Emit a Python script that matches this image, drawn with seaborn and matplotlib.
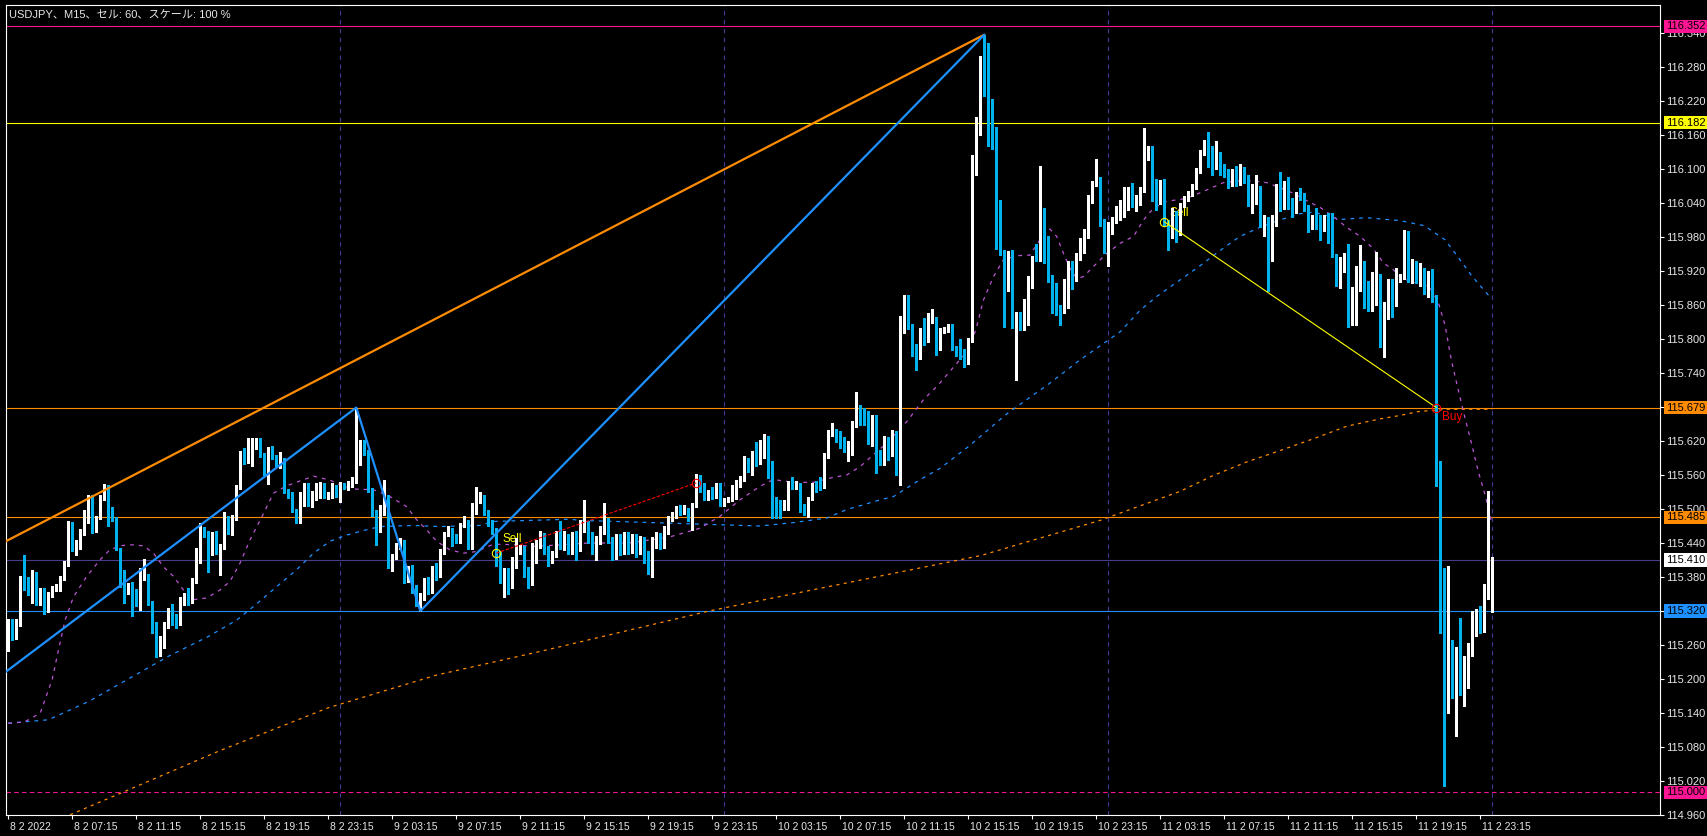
import numpy as np
import matplotlib
matplotlib.use("Agg")
import matplotlib.pyplot as plt
import matplotlib.transforms as mtransforms
import seaborn as sns

# ---- M15 candles, bar 0 = 8 Feb 03:15 ----
opens = [
    115.255, 115.300, 115.275, 115.298, 115.379, 115.376, 115.354, 115.385, 115.334, 115.357,
    115.321, 115.347, 115.361, 115.359, 115.378, 115.403, 115.474, 115.433, 115.435, 115.457,
    115.480, 115.522, 115.463, 115.485, 115.518, 115.528, 115.500, 115.484, 115.429, 115.372,
    115.353, 115.369, 115.356, 115.335, 115.378, 115.381, 115.336, 115.290, 115.250, 115.262,
    115.300, 115.329, 115.311, 115.300, 115.336, 115.343, 115.338, 115.374, 115.425, 115.463,
    115.458, 115.422, 115.458, 115.426, 115.435, 115.475, 115.468, 115.484, 115.539, 115.592,
    115.585, 115.601, 115.611, 115.623, 115.594, 115.564, 115.607, 115.592, 115.578, 115.582,
    115.531, 115.527, 115.498, 115.478, 115.526, 115.540, 115.516, 115.522, 115.525, 115.543,
    115.522, 115.522, 115.538, 115.519, 115.543, 115.537, 115.542, 115.549, 115.581, 115.617,
    115.601, 115.534, 115.495, 115.463, 115.495, 115.513, 115.401, 115.416, 115.437, 115.443,
    115.380, 115.398, 115.360, 115.335, 115.345, 115.372, 115.358, 115.395, 115.385, 115.425,
    115.457, 115.463, 115.448, 115.443, 115.472, 115.477, 115.434, 115.495, 115.519, 115.519,
    115.495, 115.478, 115.463, 115.422, 115.380, 115.390, 115.365, 115.400, 115.428, 115.431,
    115.393, 115.370, 115.410, 115.437, 115.454, 115.431, 115.410, 115.419, 115.466, 115.434,
    115.451, 115.428, 115.455, 115.430, 115.470, 115.475, 115.455, 115.430, 115.445, 115.462,
    115.469, 115.445, 115.420, 115.450, 115.425, 115.455, 115.428, 115.450, 115.425, 115.445,
    115.420, 115.400, 115.440, 115.455, 115.438, 115.466, 115.481, 115.487, 115.503, 115.496,
    115.499, 115.481, 115.507, 115.555, 115.534, 115.519, 115.534, 115.522, 115.543, 115.510,
    115.516, 115.517, 115.522, 115.540, 115.553, 115.587, 115.582, 115.599, 115.582, 115.604,
    115.622, 115.575, 115.516, 115.513, 115.502, 115.502, 115.546, 115.541, 115.541, 115.505,
    115.502, 115.519, 115.547, 115.553, 115.545, 115.594, 115.632, 115.638, 115.634, 115.624,
    115.607, 115.613, 115.649, 115.681, 115.675, 115.670, 115.621, 115.663, 115.600, 115.593,
    115.624, 115.597, 115.622, 115.562, 115.819, 115.846, 115.823, 115.788, 115.769, 115.817,
    115.797, 115.831, 115.834, 115.784, 115.815, 115.816, 115.823, 115.784, 115.781, 115.778,
    115.760, 115.797, 116.122, 116.166, 116.285, 116.280, 116.180, 116.170, 116.007, 115.954,
    115.893, 115.954, 115.837, 115.843, 115.819, 115.829, 115.894, 115.947, 115.943, 116.013,
    115.975, 115.906, 115.882, 115.858, 115.855, 115.859, 115.923, 115.906, 115.944, 115.975,
    115.982, 116.045, 116.075, 116.084, 116.007, 115.972, 115.990, 116.010, 116.023, 116.041,
    116.045, 116.062, 116.039, 116.051, 116.063, 116.117, 116.137, 116.072, 116.041, 116.075,
    116.007, 115.982, 116.022, 116.001, 116.037, 116.048, 116.057, 116.070, 116.098, 116.129,
    116.151, 116.131, 116.110, 116.125, 116.100, 116.095, 116.076, 116.100, 116.076, 116.098,
    116.082, 116.044, 116.041, 116.053, 116.005, 116.010, 115.942, 116.015, 116.072, 116.041,
    116.049, 116.044, 116.026, 116.053, 116.051, 116.034, 115.997, 116.016, 116.016, 115.994,
    116.004, 116.000, 115.948, 115.920, 115.927, 115.944, 115.837, 115.866, 115.925, 115.934,
    115.896, 115.872, 115.874, 115.908, 115.789, 115.838, 115.904, 115.881, 115.906, 115.912,
    115.985, 115.906, 115.914, 115.904, 115.918, 115.884, 115.918, 115.874, 115.565, 115.371,
    115.165, 115.203, 115.172, 115.247, 115.194, 115.232, 115.251, 115.292, 115.296, 115.292,
    115.353, 115.320,
]
highs = [
    115.306, 115.305, 115.305, 115.382, 115.418, 115.380, 115.392, 115.388, 115.360, 115.360,
    115.353, 115.364, 115.368, 115.381, 115.408, 115.478, 115.477, 115.446, 115.464, 115.498,
    115.525, 115.525, 115.488, 115.524, 115.544, 115.542, 115.503, 115.486, 115.432, 115.392,
    115.369, 115.372, 115.359, 115.395, 115.411, 115.385, 115.338, 115.300, 115.275, 115.300,
    115.325, 115.332, 115.315, 115.345, 115.352, 115.360, 115.378, 115.432, 115.475, 115.468,
    115.462, 115.460, 115.462, 115.438, 115.495, 115.487, 115.490, 115.542, 115.603, 115.607,
    115.625, 115.625, 115.626, 115.626, 115.598, 115.610, 115.612, 115.595, 115.600, 115.590,
    115.535, 115.530, 115.500, 115.530, 115.545, 115.545, 115.531, 115.546, 115.548, 115.546,
    115.530, 115.545, 115.542, 115.548, 115.546, 115.549, 115.557, 115.679, 115.622, 115.621,
    115.604, 115.537, 115.498, 115.507, 115.551, 115.525, 115.420, 115.440, 115.448, 115.445,
    115.400, 115.402, 115.365, 115.352, 115.378, 115.380, 115.400, 115.405, 115.430, 115.460,
    115.470, 115.466, 115.456, 115.475, 115.487, 115.480, 115.510, 115.538, 115.530, 115.525,
    115.498, 115.480, 115.466, 115.425, 115.395, 115.396, 115.415, 115.448, 115.437, 115.435,
    115.398, 115.440, 115.445, 115.462, 115.458, 115.434, 115.425, 115.462, 115.478, 115.462,
    115.455, 115.460, 115.462, 115.480, 115.516, 115.478, 115.460, 115.452, 115.470, 115.510,
    115.484, 115.450, 115.455, 115.455, 115.460, 115.460, 115.456, 115.455, 115.452, 115.450,
    115.425, 115.450, 115.460, 115.458, 115.470, 115.487, 115.495, 115.505, 115.507, 115.507,
    115.502, 115.510, 115.562, 115.560, 115.546, 115.534, 115.538, 115.546, 115.546, 115.520,
    115.521, 115.543, 115.552, 115.558, 115.593, 115.590, 115.603, 115.619, 115.622, 115.632,
    115.629, 115.584, 115.521, 115.515, 115.516, 115.550, 115.557, 115.550, 115.546, 115.508,
    115.522, 115.545, 115.550, 115.556, 115.598, 115.640, 115.652, 115.642, 115.638, 115.627,
    115.620, 115.655, 115.707, 115.684, 115.678, 115.673, 115.665, 115.666, 115.604, 115.628,
    115.627, 115.640, 115.637, 115.841, 115.878, 115.878, 115.826, 115.792, 115.820, 115.837,
    115.846, 115.853, 115.838, 115.820, 115.822, 115.826, 115.826, 115.788, 115.800, 115.782,
    115.802, 116.125, 116.191, 116.299, 116.337, 116.322, 116.223, 116.174, 116.045, 115.957,
    115.955, 115.957, 115.848, 115.848, 115.870, 115.911, 115.947, 115.968, 116.105, 116.031,
    115.982, 115.913, 115.898, 115.860, 115.906, 115.937, 115.937, 115.951, 115.978, 115.994,
    116.054, 116.078, 116.117, 116.086, 116.011, 116.006, 116.016, 116.034, 116.045, 116.069,
    116.068, 116.075, 116.054, 116.069, 116.172, 116.140, 116.140, 116.082, 116.080, 116.082,
    116.010, 116.031, 116.025, 116.040, 116.052, 116.062, 116.074, 116.102, 116.133, 116.151,
    116.166, 116.140, 116.150, 116.130, 116.108, 116.100, 116.100, 116.105, 116.108, 116.103,
    116.090, 116.073, 116.089, 116.070, 116.019, 116.016, 116.019, 116.074, 116.095, 116.079,
    116.085, 116.048, 116.059, 116.067, 116.057, 116.036, 116.019, 116.032, 116.018, 116.019,
    116.022, 116.022, 115.950, 115.944, 115.952, 115.967, 115.891, 115.928, 115.966, 115.937,
    115.903, 115.918, 115.954, 115.915, 115.865, 115.906, 115.906, 115.925, 115.915, 115.992,
    115.990, 115.942, 115.937, 115.934, 115.925, 115.920, 115.923, 115.878, 115.584, 115.395,
    115.400, 115.269, 115.256, 115.307, 115.241, 115.264, 115.320, 115.323, 115.329, 115.367,
    115.532, 115.415,
]
lows = [
    115.250, 115.268, 115.270, 115.294, 115.357, 115.348, 115.334, 115.330, 115.330, 115.315,
    115.318, 115.344, 115.355, 115.356, 115.375, 115.400, 115.425, 115.418, 115.430, 115.454,
    115.476, 115.458, 115.460, 115.482, 115.515, 115.470, 115.478, 115.428, 115.362, 115.334,
    115.350, 115.312, 115.328, 115.322, 115.374, 115.330, 115.282, 115.238, 115.240, 115.255,
    115.290, 115.295, 115.290, 115.295, 115.330, 115.330, 115.334, 115.370, 115.404, 115.450,
    115.388, 115.418, 115.420, 115.384, 115.430, 115.456, 115.454, 115.480, 115.535, 115.580,
    115.582, 115.575, 115.606, 115.592, 115.560, 115.544, 115.588, 115.575, 115.572, 115.528,
    115.520, 115.495, 115.475, 115.476, 115.505, 115.505, 115.504, 115.515, 115.520, 115.519,
    115.517, 115.520, 115.522, 115.513, 115.535, 115.533, 115.539, 115.545, 115.578, 115.596,
    115.530, 115.487, 115.437, 115.460, 115.490, 115.395, 115.391, 115.412, 115.430, 115.370,
    115.372, 115.352, 115.328, 115.320, 115.340, 115.350, 115.352, 115.375, 115.380, 115.420,
    115.452, 115.434, 115.440, 115.440, 115.468, 115.430, 115.430, 115.492, 115.510, 115.490,
    115.470, 115.455, 115.400, 115.370, 115.345, 115.350, 115.360, 115.396, 115.420, 115.380,
    115.360, 115.366, 115.405, 115.432, 115.420, 115.400, 115.405, 115.415, 115.430, 115.428,
    115.420, 115.420, 115.410, 115.425, 115.460, 115.440, 115.420, 115.410, 115.438, 115.455,
    115.440, 115.410, 115.412, 115.418, 115.420, 115.420, 115.422, 115.415, 115.420, 115.405,
    115.385, 115.380, 115.432, 115.430, 115.432, 115.455, 115.478, 115.484, 115.490, 115.492,
    115.478, 115.463, 115.503, 115.530, 115.515, 115.515, 115.518, 115.520, 115.505, 115.505,
    115.512, 115.514, 115.518, 115.538, 115.550, 115.566, 115.560, 115.575, 115.580, 115.590,
    115.555, 115.484, 115.484, 115.484, 115.498, 115.498, 115.535, 115.536, 115.495, 115.490,
    115.485, 115.516, 115.530, 115.534, 115.537, 115.590, 115.628, 115.619, 115.607, 115.600,
    115.584, 115.596, 115.645, 115.649, 115.649, 115.615, 115.612, 115.563, 115.578, 115.578,
    115.587, 115.594, 115.560, 115.543, 115.810, 115.818, 115.770, 115.746, 115.765, 115.790,
    115.794, 115.828, 115.772, 115.780, 115.810, 115.812, 115.780, 115.770, 115.765, 115.750,
    115.755, 115.795, 116.090, 116.160, 116.228, 116.140, 116.135, 115.958, 115.948, 115.822,
    115.885, 115.819, 115.728, 115.815, 115.815, 115.825, 115.890, 115.938, 115.938, 115.934,
    115.900, 115.846, 115.843, 115.825, 115.846, 115.855, 115.888, 115.902, 115.940, 115.951,
    115.978, 116.040, 116.070, 116.000, 115.952, 115.928, 115.985, 116.005, 116.010, 116.016,
    116.028, 116.033, 116.025, 116.037, 116.060, 116.115, 116.043, 116.028, 116.038, 116.000,
    115.957, 115.978, 115.972, 115.984, 116.033, 116.044, 116.052, 116.065, 116.093, 116.125,
    116.103, 116.090, 116.100, 116.090, 116.085, 116.067, 116.070, 116.070, 116.072, 116.075,
    116.035, 116.022, 116.038, 115.997, 115.981, 115.884, 115.938, 116.000, 116.026, 116.030,
    116.029, 116.016, 116.022, 116.045, 116.026, 115.988, 115.994, 115.994, 115.975, 115.991,
    115.969, 115.945, 115.893, 115.890, 115.918, 115.822, 115.824, 115.824, 115.884, 115.855,
    115.849, 115.849, 115.860, 115.785, 115.769, 115.835, 115.838, 115.859, 115.900, 115.905,
    115.900, 115.899, 115.898, 115.893, 115.880, 115.874, 115.866, 115.540, 115.282, 115.011,
    115.140, 115.166, 115.099, 115.172, 115.153, 115.184, 115.241, 115.276, 115.282, 115.283,
    115.342, 115.318,
]
closes = [
    115.300, 115.275, 115.298, 115.379, 115.375, 115.352, 115.385, 115.334, 115.355, 115.319,
    115.350, 115.361, 115.362, 115.378, 115.405, 115.474, 115.429, 115.436, 115.461, 115.495,
    115.522, 115.463, 115.485, 115.521, 115.531, 115.498, 115.481, 115.431, 115.366, 115.352,
    115.366, 115.356, 115.332, 115.378, 115.381, 115.336, 115.290, 115.250, 115.262, 115.295,
    115.321, 115.300, 115.298, 115.341, 115.348, 115.334, 115.375, 115.428, 115.463, 115.454,
    115.422, 115.457, 115.425, 115.435, 115.475, 115.466, 115.487, 115.539, 115.594, 115.585,
    115.604, 115.611, 115.623, 115.595, 115.564, 115.605, 115.592, 115.578, 115.582, 115.531,
    115.526, 115.498, 115.478, 115.527, 115.540, 115.519, 115.525, 115.543, 115.541, 115.522,
    115.525, 115.540, 115.525, 115.543, 115.538, 115.542, 115.551, 115.581, 115.616, 115.601,
    115.535, 115.493, 115.463, 115.495, 115.522, 115.401, 115.416, 115.437, 115.443, 115.380,
    115.398, 115.360, 115.335, 115.345, 115.372, 115.358, 115.395, 115.385, 115.425, 115.457,
    115.463, 115.443, 115.443, 115.472, 115.478, 115.434, 115.497, 115.522, 115.522, 115.493,
    115.475, 115.460, 115.422, 115.380, 115.390, 115.365, 115.410, 115.443, 115.431, 115.393,
    115.370, 115.434, 115.437, 115.457, 115.428, 115.410, 115.419, 115.457, 115.434, 115.457,
    115.428, 115.455, 115.430, 115.470, 115.475, 115.455, 115.430, 115.445, 115.462, 115.470,
    115.445, 115.420, 115.450, 115.425, 115.455, 115.428, 115.450, 115.425, 115.445, 115.420,
    115.400, 115.440, 115.455, 115.438, 115.466, 115.481, 115.490, 115.502, 115.495, 115.503,
    115.481, 115.507, 115.556, 115.534, 115.519, 115.528, 115.522, 115.543, 115.510, 115.516,
    115.517, 115.527, 115.541, 115.555, 115.589, 115.578, 115.600, 115.581, 115.606, 115.622,
    115.572, 115.516, 115.503, 115.502, 115.513, 115.546, 115.541, 115.545, 115.502, 115.502,
    115.519, 115.538, 115.539, 115.540, 115.594, 115.634, 115.638, 115.631, 115.622, 115.604,
    115.615, 115.650, 115.681, 115.675, 115.666, 115.621, 115.663, 115.599, 115.593, 115.624,
    115.597, 115.621, 115.562, 115.819, 115.846, 115.822, 115.787, 115.769, 115.817, 115.797,
    115.833, 115.834, 115.784, 115.816, 115.816, 115.823, 115.784, 115.781, 115.775, 115.760,
    115.799, 116.122, 116.169, 116.284, 116.278, 116.180, 116.169, 116.006, 115.951, 115.893,
    115.951, 115.837, 115.844, 115.819, 115.831, 115.894, 115.944, 115.941, 116.013, 115.974,
    115.904, 115.881, 115.858, 115.854, 115.857, 115.923, 115.906, 115.944, 115.976, 115.985,
    116.045, 116.075, 116.082, 116.006, 115.957, 115.985, 116.011, 116.023, 116.043, 116.045,
    116.064, 116.037, 116.051, 116.066, 116.121, 116.137, 116.066, 116.041, 116.075, 116.006,
    115.982, 116.019, 116.001, 116.037, 116.048, 116.058, 116.070, 116.098, 116.129, 116.148,
    116.131, 116.110, 116.125, 116.095, 116.092, 116.076, 116.080, 116.076, 116.100, 116.080,
    116.040, 116.045, 116.051, 116.005, 116.010, 115.942, 116.017, 116.072, 116.044, 116.048,
    116.041, 116.026, 116.053, 116.048, 116.032, 115.997, 116.016, 116.013, 115.994, 116.004,
    116.000, 115.947, 115.918, 115.928, 115.944, 115.837, 115.866, 115.925, 115.933, 115.896,
    115.872, 115.878, 115.911, 115.789, 115.843, 115.904, 115.879, 115.906, 115.912, 115.985,
    115.906, 115.914, 115.903, 115.917, 115.884, 115.918, 115.871, 115.562, 115.370, 115.165,
    115.200, 115.170, 115.252, 115.194, 115.235, 115.252, 115.292, 115.300, 115.292, 115.353,
    115.412, 115.410,
]

# ---- moving averages (bar index, price) ----
ma_fast_bars = [
    0, 4, 8, 11, 12.5, 14.2, 16.3, 19.6, 22.9, 25.4,
    27.9, 30.4, 33.8, 36.3, 38.8, 41.3, 43.8, 46.3, 49.6, 52.9,
    55.4, 57.9, 60.4, 63.8, 66.3, 69.6, 76.3, 80.4, 83.8, 87.1,
    91.3, 95.4, 99.6, 102.1, 104.6, 107.1, 110.4, 113.8, 117.1, 121.3,
    126.3, 131.3, 138.8, 145, 155, 165, 172.9, 177.9, 182.9, 187.9,
    191.3, 196.3, 201.3, 206.3, 209.6, 213.0, 216.3, 219.6, 224.6, 228.8,
    232.5, 240.4, 242.1, 243.8, 246.3, 248.8, 252.1, 255.4, 257.9, 260.4,
    262.1, 263.8, 265.4, 267.1, 268.8, 271.3, 274.6, 278.0, 281.3, 283.8,
    286.3, 289.6, 294.6, 299.6, 303.8, 308.0, 311.3, 314.6, 318.0, 321.3,
    324.6, 328.0, 331.3, 334.6, 338.0, 341.3, 343.8, 346.3, 348.0, 350.8,
    355.2, 357.5, 359.2, 360.8, 362.5, 364.2, 365.8, 367.5, 369.2, 370.8,
]
ma_fast = [
    115.122, 115.124, 115.140, 115.200, 115.250, 115.304, 115.345, 115.381, 115.410, 115.428,
    115.435, 115.437, 115.435, 115.422, 115.398, 115.381, 115.357, 115.340, 115.343, 115.357,
    115.372, 115.404, 115.445, 115.492, 115.528, 115.541, 115.558, 115.551, 115.540, 115.535,
    115.534, 115.522, 115.504, 115.481, 115.463, 115.443, 115.428, 115.422, 115.425, 115.438,
    115.437, 115.434, 115.437, 115.440, 115.440, 115.450, 115.466, 115.487, 115.516, 115.540,
    115.552, 115.547, 115.547, 115.556, 115.560, 115.575, 115.596, 115.616, 115.654, 115.693,
    115.719, 115.784, 115.822, 115.869, 115.910, 115.940, 115.947, 115.948, 115.975, 115.994,
    115.981, 115.951, 115.925, 115.907, 115.910, 115.928, 115.951, 115.969, 115.981, 116.010,
    116.031, 116.043, 116.048, 116.063, 116.076, 116.079, 116.079, 116.076, 116.067, 116.057,
    116.044, 116.032, 116.016, 115.997, 115.981, 115.959, 115.934, 115.922, 115.909, 115.901,
    115.893, 115.865, 115.824, 115.761, 115.710, 115.660, 115.616, 115.566, 115.525, 115.477,
]
ma_mid_bars = [
    0, 10, 20, 30, 40, 50, 57.1, 61.3, 69.6, 72.1,
    76.3, 80.4, 84.6, 88.8, 92.9, 101.3, 107.9, 117.9, 121.3, 140.4,
    142.9, 187.9, 196.3, 204.6, 209.6, 217.9, 221.3, 224.6, 228.0, 233.0,
    240, 250, 260, 267.9, 274.6, 278.0, 283.0, 287.1, 291.3, 297.9,
    302.9, 307.9, 312.9, 317.9, 322.9, 326.3, 332.9, 339.6, 347.9, 354,
    359.2, 362.5, 365.8, 370.8,
]
ma_mid = [
    115.122, 115.128, 115.160, 115.200, 115.240, 115.275, 115.304, 115.328, 115.378, 115.393,
    115.422, 115.443, 115.454, 115.462, 115.469, 115.471, 115.469, 115.471, 115.478, 115.482,
    115.480, 115.470, 115.476, 115.484, 115.499, 115.516, 115.522, 115.537, 115.552, 115.572,
    115.610, 115.670, 115.720, 115.763, 115.796, 115.813, 115.851, 115.875, 115.896, 115.929,
    115.956, 115.981, 115.997, 116.010, 116.021, 116.024, 116.011, 116.014, 116.009, 116.000,
    115.975, 115.944, 115.912, 115.871,
]
ma_slow_bars = [12, 29.9, 52.7, 79.9, 107.1, 134.4, 175.2, 243.2, 273, 292.9,
                301.2, 309.6, 317.9, 326.3, 334.6, 342.9, 347.9, 352.5, 360, 371]
ma_slow = [114.950, 115.004, 115.073, 115.149, 115.207, 115.251, 115.320, 115.418, 115.480, 115.531,
           115.559, 115.583, 115.603, 115.624, 115.646, 115.659, 115.665, 115.672, 115.676, 115.676]

# zigzag and trend line vertices
zigzag_bars = [-6, 87, 103, 244]
zigzag_prices = [115.184, 115.679, 115.320, 116.337]
trend_bars = [-2, 244]
trend_prices = [115.438, 116.337]

# trades
trade1_bars = [122, 172]
trade1_prices = [115.422, 115.546]
trade2_bars = [289, 357]
trade2_prices = [116.007, 115.679]

# horizontal levels and their price boxes
level_prices = [116.352, 116.182, 115.679, 115.485, 115.410, 115.320, 115.000]
level_colors = ['#FF1493', '#FFFF00', '#FF8C00', '#FF8C00', '#483D8B', '#1E90FF', '#FF1493']
level_box_colors = ['#FF1493', '#FFFF00', '#FF8C00', '#FF8C00', '#FFFFFF', '#1E90FF', '#FF1493']
level_styles = ['-', '-', '-', '-', '-', '-', (0, (4, 3))]

day_breaks = [83, 179, 275, 371]

ytick_values = [114.960, 115.020, 115.080, 115.140, 115.200, 115.260, 115.320, 115.380,
                115.440, 115.500, 115.560, 115.620, 115.680, 115.740, 115.800, 115.860,
                115.920, 115.980, 116.040, 116.100, 116.160, 116.220, 116.280, 116.340]
xtick_bars = [0, 16, 32, 48, 64, 80, 96, 112, 128, 144, 160, 176,
              192, 208, 224, 240, 256, 272, 288, 304, 320, 336, 352, 368]
xtick_labels = ['8 2 2022', '8 2 07:15', '8 2 11:15', '8 2 15:15', '8 2 19:15', '8 2 23:15',
                '9 2 03:15', '9 2 07:15', '9 2 11:15', '9 2 15:15', '9 2 19:15', '9 2 23:15',
                '10 2 03:15', '10 2 07:15', '10 2 11:15', '10 2 15:15', '10 2 19:15', '10 2 23:15',
                '11 2 03:15', '11 2 07:15', '11 2 11:15', '11 2 15:15', '11 2 19:15', '11 2 23:15']

title = "USDJPY、M15、セル: 60、スケール: 100 %"

# ---- style ----
sns.set_style("dark", {"axes.facecolor": "black", "figure.facecolor": "black"})
plt.rcParams['font.family'] = ['Liberation Sans', 'Noto Sans CJK JP', 'DejaVu Sans']
TEXT = '#E6E6E6'
BULL = '#FFFFFF'
BEAR = '#00B2EE'

W, H = 1707, 836
fig = plt.figure(figsize=(W / 100, H / 100), dpi=100)
fig.patch.set_facecolor('black')
ax = fig.add_axes([5.7 / W, (H - 815) / H, 1654.3 / W, 810 / H])
ax.set_facecolor('black')
ax.set_xlim(-0.65, 412.93)
ax.set_ylim(114.9601, 116.3894)

# levels and day separators
for p, col, ls in zip(level_prices, level_colors, level_styles):
    ax.axhline(p, color=col, linewidth=0.8, linestyle=ls, zorder=1)
for b in day_breaks:
    ax.axvline(b, color='#3E3E96', linewidth=0.8, linestyle=(0, (4, 4)), zorder=1)

# moving averages
sns.lineplot(x=ma_slow_bars, y=ma_slow, ax=ax, color='#FF8C00', linewidth=0.9,
             linestyle=(0, (2.5, 3.5)), zorder=2)
sns.lineplot(x=ma_mid_bars, y=ma_mid, ax=ax, color='#1E90FF', linewidth=0.9,
             linestyle=(0, (3, 4)), zorder=2)
sns.lineplot(x=ma_fast_bars, y=ma_fast, ax=ax, color='#BA55D3', linewidth=0.9,
             linestyle=(0, (3, 4)), zorder=2)

# candles (crisp, like the terminal draws them)
x = np.arange(len(closes))
o = np.array(opens)
c = np.array(closes)
up = c >= o
colors = np.where(up, BULL, BEAR)
ax.vlines(x, lows, highs, colors=colors, linewidth=0.8, zorder=4, antialiased=False)
ax.bar(x, np.maximum(np.abs(c - o), 0.0012), bottom=np.minimum(o, c), width=0.62,
       color=colors, linewidth=0, zorder=5, antialiased=False)

# zigzag / trend line
sns.lineplot(x=trend_bars, y=trend_prices, ax=ax, color='#FF8C00', linewidth=1.6, zorder=6)
sns.lineplot(x=zigzag_bars, y=zigzag_prices, ax=ax, color='#1E90FF', linewidth=1.6, zorder=6)

# trade arrows
ax.plot(trade1_bars, trade1_prices, color='#FF0000', linewidth=0.8,
        linestyle=(0, (3, 1.5)), zorder=7)
ax.plot(trade2_bars, trade2_prices, color='#FFFF00', linewidth=0.8, zorder=7)
ax.plot(trade1_bars[0], trade1_prices[0], 'o', mfc='none', mec='#FFFF00', mew=0.8, ms=6, zorder=8)
ax.plot(trade1_bars[1], trade1_prices[1], 'o', mfc='none', mec='#FF0000', mew=0.8, ms=6, zorder=8)
ax.plot(trade2_bars[0], trade2_prices[0], 'o', mfc='none', mec='#FFFF00', mew=0.8, ms=6, zorder=8)
ax.plot(trade2_bars[1], trade2_prices[1], 'o', mfc='none', mec='#FF0000', mew=0.8, ms=6, zorder=8)
ax.text(123.5, 115.447, 'Sell', color='#FFFF00', fontsize=8.5, va='center', zorder=3.5)
ax.text(290.3, 116.022, 'Sell', color='#FFFF00', fontsize=8.5, va='center', zorder=3.5)
ax.text(358.4, 115.663, 'Buy', color='#FF0000', fontsize=8.5, va='center', zorder=8)

# axes frame and ticks
for sp in ax.spines.values():
    sp.set_color('white')
    sp.set_linewidth(0.8)
ax.grid(False)
ax.yaxis.tick_right()
ax.set_yticks(ytick_values)
ax.set_yticklabels([f"{v:.3f}" for v in ytick_values])
ax.set_xticks(xtick_bars)
ax.set_xticklabels(xtick_labels)
ax.tick_params(axis='y', right=True, left=False, length=3, width=0.8, color='white',
               labelcolor=TEXT, labelsize=8, pad=1.5)
ax.tick_params(axis='x', bottom=True, length=3, width=0.8, color='white',
               labelcolor=TEXT, labelsize=7.5, pad=2)
shift = mtransforms.ScaledTranslation(2 / 100, 0, fig.dpi_scale_trans)
for lbl in ax.get_xticklabels():
    lbl.set_ha('left')
    lbl.set_transform(lbl.get_transform() + shift)

# price boxes on the right scale
box_tr = mtransforms.blended_transform_factory(ax.transAxes, ax.transData)
for p, bc in zip(level_prices, level_box_colors):
    ax.text(1.0036, p, f"{p:.3f}", transform=box_tr, ha='left', va='center',
            fontsize=8, color='black', clip_on=False, zorder=20,
            bbox=dict(boxstyle='square,pad=0.15', fc=bc, ec='none'))

fig.text(9 / W, 1 - 15 / H, title, color=TEXT, fontsize=8, va='center', ha='left')

fig.savefig('out.png', dpi=100, facecolor='black')
